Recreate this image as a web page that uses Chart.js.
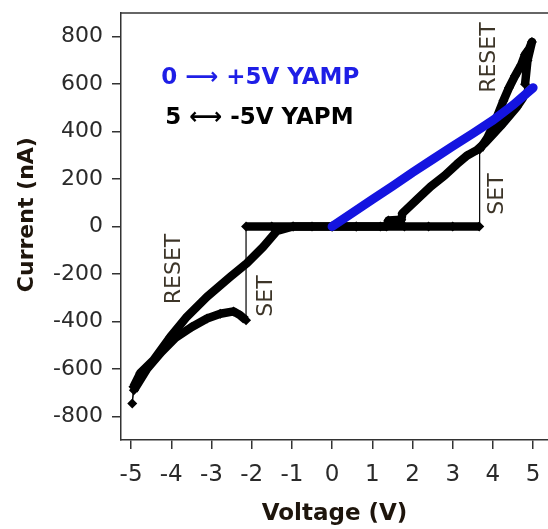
<!DOCTYPE html>
<html>
<head>
<meta charset="utf-8">
<script src="https://cdn.jsdelivr.net/npm/chart.js@4/dist/chart.umd.min.js"></script>
<style>
  html, body { margin: 0; padding: 0; background: #fff; }
</style>
</head>
<body>
<canvas id="myChart" width="548" height="529"></canvas>
<script>
// axis ticks
const xTicks = [-5, -4, -3, -2, -1, 0, 1, 2, 3, 4, 5];
const yTicks = [-800, -600, -400, -200, 0, 200, 400, 600, 800];

// 0 -> +5V sweep (blue)
const yampV = [0, 0.5, 1, 1.5, 2, 2.5, 3, 3.5, 4, 4.5, 5];
const yampI = [0, 57, 114, 170, 228, 283, 338, 392, 448, 512, 585];

// 5 <-> -5V sweep (black), in sweep order
const yapmV = [
  0, 0.6, 1.2, 1.8, 2.4, 3.0, 3.66,
  3.67, 3.85, 4.05, 4.26, 4.4, 4.55, 4.7, 4.8, 4.9, 4.97,
  4.86, 4.8, 4.76,
  4.6, 4.4, 4.2, 4.0, 3.8, 3.6, 3.35, 3.1, 2.8, 2.45, 2.1, 1.75, 1.72, 1.4, 1.35,
  0.6, 0, -0.5, -0.97,
  -1.37, -1.71, -2.12, -2.53, -3.11, -3.61, -4.02, -4.44, -4.77, -4.94, -4.97,
  -4.93, -4.6, -4.25, -3.9, -3.5, -3.11, -2.78, -2.45, -2.28, -2.14,
  -2.14, -1.5, -0.97, 0
];
const yapmI = [
  0, 0, 0, 0, 0, 0, 0,
  325, 370, 440, 530, 585, 635, 680, 725, 748, 778,
  700, 600, 545,
  505, 465, 425, 388, 352, 322, 298, 262, 215, 168, 112, 56, 28, 25, 0,
  0, 0, 0, 0,
  -18, -85, -155, -212, -296, -380, -465, -563, -618, -676, -746,
  -690, -600, -530, -470, -425, -388, -368, -358, -375, -395,
  0, 0, 0, 0
];

const font = "'DejaVu Sans'";
const tickColor = "#2a2a2a";
const titleColor = "#1e150c";
const frameColor = "#333";

function toPoints(xs, ys) {
  return xs.map((x, i) => ({ x: x, y: ys[i] }));
}

// thin connector where the sweep jumps (SET steps)
function jumpWidth(ctx) {
  const dx = Math.abs(ctx.p1.parsed.x - ctx.p0.parsed.x);
  const dy = Math.abs(ctx.p1.parsed.y - ctx.p0.parsed.y);
  return dx < 0.05 && dy > 50 ? 1.2 : 8.5;
}

const extras = {
  id: "extras",
  afterDraw(chart) {
    const ctx = chart.ctx;
    const area = chart.chartArea;
    const xs = chart.scales.x;
    const ys = chart.scales.y;
    ctx.save();
    // top frame line
    ctx.strokeStyle = frameColor;
    ctx.lineWidth = 1.5;
    ctx.beginPath();
    ctx.moveTo(area.left, area.top);
    ctx.lineTo(area.right, area.top);
    ctx.stroke();

    // y axis title, sits a bit above the axis middle
    ctx.save();
    ctx.font = "bold 22px " + font;
    ctx.fillStyle = titleColor;
    ctx.textAlign = "center";
    ctx.textBaseline = "middle";
    ctx.translate(27, ys.getPixelForValue(50));
    ctx.rotate(-Math.PI / 2);
    ctx.fillText("Current (nA)", 0, 0);
    ctx.restore();

    // legend text
    ctx.font = "bold 23px " + font;
    ctx.textBaseline = "middle";
    ctx.textAlign = "left";
    ctx.fillStyle = "#1e1ee6";
    ctx.fillText("0 \u27F6 +5V YAMP", xs.getPixelForValue(-4.25), ys.getPixelForValue(627));
    ctx.fillStyle = "#000";
    ctx.fillText("5 \u27F7 -5V YAPM", xs.getPixelForValue(-4.15), ys.getPixelForValue(458));

    // annotations, rotated
    const notes = [
      ["RESET", 3.92, 712],
      ["SET", 4.12, 137],
      ["RESET", -3.93, -179],
      ["SET", -1.63, -293],
    ];
    ctx.font = "22px " + font;
    ctx.fillStyle = "#3d3528";
    ctx.textAlign = "center";
    notes.forEach(([t, v, i]) => {
      ctx.save();
      ctx.translate(xs.getPixelForValue(v), ys.getPixelForValue(i));
      ctx.rotate(-Math.PI / 2);
      ctx.fillText(t, 0, 0);
      ctx.restore();
    });
    ctx.restore();
  },
};

const ctx = document.getElementById("myChart");
const myChart = new Chart(ctx, {
  type: "scatter",
  data: {
    datasets: [
      {
        label: "0 -> +5V YAMP",
        data: toPoints(yampV, yampI),
        showLine: true,
        borderColor: "#1414e0",
        backgroundColor: "#1414e0",
        borderWidth: 9,
        borderCapStyle: "round",
        pointRadius: 0,
      },
      {
        label: "5 <-> -5V YAPM",
        data: toPoints(yapmV, yapmI),
        showLine: true,
        borderColor: "#000",
        backgroundColor: "#000",
        borderWidth: 8.5,
        borderJoinStyle: "round",
        pointStyle: "rectRot",
        pointRadius: 5,
        pointBorderWidth: 0,
        segment: {
          borderWidth: jumpWidth,
        },
      },
    ],
  },
  options: {
    responsive: false,
    animation: false,
    layout: { autoPadding: false, padding: { top: 13, right: 0, left: 0, bottom: 0 } },
    plugins: {
      legend: { display: false },
      tooltip: { enabled: false },
    },
    scales: {
      x: {
        min: -5.25,
        max: 5.37,
        afterBuildTicks: (s) => {
          s.ticks = xTicks.map((v) => ({ value: v }));
        },
        afterFit: (s) => {
          s.height = 89;
          s.paddingLeft = 0;
          s.paddingRight = 0;
        },
        grid: { drawOnChartArea: false, tickLength: 9, color: frameColor, lineWidth: 1.5 },
        border: { color: frameColor, width: 1.5 },
        ticks: {
          font: { family: "DejaVu Sans", size: 23 },
          color: tickColor,
          padding: 12,
          maxRotation: 0,
          autoSkip: false,
        },
        title: {
          display: true,
          text: "Voltage (V)",
          font: { family: "DejaVu Sans", size: 23, weight: "bold" },
          color: titleColor,
          padding: { top: 0, bottom: 1 },
        },
      },
      y: {
        min: -900,
        max: 900,
        afterBuildTicks: (s) => {
          s.ticks = yTicks.map((v) => ({ value: v }));
        },
        afterFit: (s) => {
          s.width = 121;
          s.paddingTop = 0;
          s.paddingBottom = 0;
        },
        grid: { drawOnChartArea: false, tickLength: 9, color: frameColor, lineWidth: 1.5 },
        border: { color: frameColor, width: 1.5 },
        ticks: {
          font: { family: "DejaVu Sans", size: 22 },
          color: tickColor,
          padding: 9,
        },
      },
    },
  },
  plugins: [extras],
});
</script>
</body>
</html>
